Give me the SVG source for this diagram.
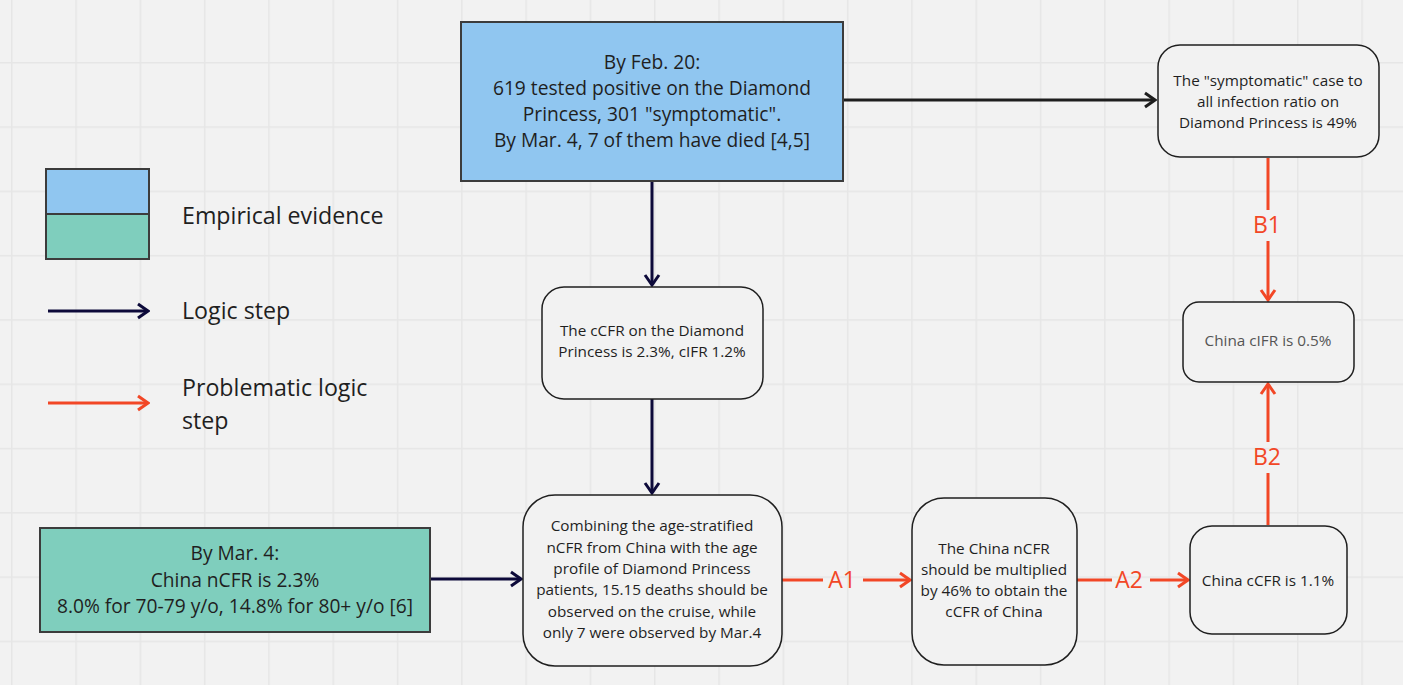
<svg xmlns="http://www.w3.org/2000/svg" width="1403" height="685" viewBox="0 0 1403 685">
<defs>
<pattern id="grid" patternUnits="userSpaceOnUse" x="11" y="-2.3" width="64.3" height="64.3">
<path d="M0.75,0 V64.3 M0,0.75 H64.3" fill="none" stroke="#e6e6e6" stroke-width="1.5"/>
</pattern>
<marker id="ah-navy" viewBox="0 0 14 18" refX="12" refY="9" markerWidth="14" markerHeight="18" markerUnits="userSpaceOnUse" orient="auto">
<path d="M2,2 L12,9 L2,16" fill="none" stroke="#0d0a3a" stroke-width="3"/>
</marker>
<marker id="ah-black" viewBox="0 0 14 18" refX="12" refY="9" markerWidth="14" markerHeight="18" markerUnits="userSpaceOnUse" orient="auto">
<path d="M2,2 L12,9 L2,16" fill="none" stroke="#1e1e1e" stroke-width="3"/>
</marker>
<marker id="ah-red" viewBox="0 0 14 18" refX="12" refY="9" markerWidth="14" markerHeight="18" markerUnits="userSpaceOnUse" orient="auto">
<path d="M2,2 L12,9 L2,16" fill="none" stroke="#f24726" stroke-width="3"/>
</marker>
</defs>
<style>
text{font-family:"Open Sans","Noto Sans","DejaVu Sans",sans-serif;fill:#1f1f1f;text-anchor:middle;dominant-baseline:central}
.ev{stroke:#3c3c3c;stroke-width:2}
.blue{fill:#90c6f0}
.green{fill:#7fcebd}
.node{fill:#f2f2f2;stroke:#1f1f1f;stroke-width:1.5}
.big{font-size:19.2px}
.mid{font-size:15.3px}
.leg{font-size:23.2px;text-anchor:start}
.lab{font-size:23px;fill:#f24726}
.navy{stroke:#0d0a3a;stroke-width:3;fill:none}
.black{stroke:#1e1e1e;stroke-width:3;fill:none}
.red{stroke:#f24726;stroke-width:3;fill:none}
</style>
<rect width="1403" height="685" fill="#f2f2f2"/>
<rect width="1403" height="685" fill="url(#grid)"/>

<g id="legend">
<rect class="ev blue" x="46" y="169" width="103" height="45"/>
<rect class="ev green" x="46" y="214" width="103" height="45"/>
<text class="leg" x="182" y="215">Empirical evidence</text>
<line class="navy" x1="48" y1="311" x2="148" y2="311" marker-end="url(#ah-navy)"/>
<text class="leg" x="182" y="310">Logic step</text>
<line class="red" x1="48" y1="403" x2="148" y2="403" marker-end="url(#ah-red)"/>
<text class="leg" x="182" y="387">Problematic logic</text>
<text class="leg" x="182" y="420">step</text>
</g>

<g id="connectors">
<line class="black" x1="843" y1="100" x2="1155" y2="100" marker-end="url(#ah-black)"/>
<line class="navy" x1="652" y1="181" x2="652" y2="285" marker-end="url(#ah-navy)"/>
<line class="navy" x1="652" y1="399" x2="652" y2="493" marker-end="url(#ah-navy)"/>
<line class="navy" x1="430" y1="579" x2="521" y2="579" marker-end="url(#ah-navy)"/>
<line class="red" x1="782" y1="580" x2="823" y2="580"/>
<line class="red" x1="863" y1="580" x2="910" y2="580" marker-end="url(#ah-red)"/>
<text class="lab" x="842" y="579">A1</text>
<line class="red" x1="1077" y1="580" x2="1112" y2="580"/>
<line class="red" x1="1150" y1="580" x2="1188" y2="580" marker-end="url(#ah-red)"/>
<text class="lab" x="1129" y="579">A2</text>
<line class="red" x1="1268" y1="158" x2="1268" y2="210"/>
<line class="red" x1="1268" y1="241" x2="1268" y2="300" marker-end="url(#ah-red)"/>
<text class="lab" x="1267" y="224">B1</text>
<line class="red" x1="1268" y1="525" x2="1268" y2="473"/>
<line class="red" x1="1268" y1="442" x2="1268" y2="384" marker-end="url(#ah-red)"/>
<text class="lab" x="1267" y="456">B2</text>
</g>

<g id="n-diamond">
<rect class="ev blue" x="461" y="22" width="382" height="159"/>
<text class="big" x="652" y="61">By Feb. 20:</text>
<text class="big" x="652" y="87">619 tested positive on the Diamond</text>
<text class="big" x="652" y="113">Princess, 301 "symptomatic".</text>
<text class="big" x="652" y="139">By Mar. 4, 7 of them have died [4,5]</text>
</g>

<g id="n-china">
<rect class="ev green" x="40" y="528" width="390" height="104"/>
<text class="big" x="235" y="552">By Mar. 4:</text>
<text class="big" x="235" y="579">China nCFR is 2.3%</text>
<text class="big" x="235" y="605">8.0% for 70-79 y/o, 14.8% for 80+ y/o [6]</text>
</g>

<g id="n-ratio">
<rect class="node" x="1158" y="45" width="221" height="112" rx="22"/>
<text class="mid" x="1268" y="80">The "symptomatic" case to</text>
<text class="mid" x="1268" y="101">all infection ratio on</text>
<text class="mid" x="1268" y="122">Diamond Princess is 49%</text>
</g>

<g id="n-dp-cfr">
<rect class="node" x="542" y="287" width="221" height="112" rx="22"/>
<text class="mid" x="652" y="330">The cCFR on the Diamond</text>
<text class="mid" x="652" y="351">Princess is 2.3%, cIFR 1.2%</text>
</g>

<g id="n-combine">
<rect class="node" x="523" y="495" width="259" height="171" rx="32"/>
<text class="mid" x="652" y="525">Combining the age-stratified</text>
<text class="mid" x="652" y="547">nCFR from China with the age</text>
<text class="mid" x="652" y="568">profile of Diamond Princess</text>
<text class="mid" x="652" y="589">patients, 15.15 deaths should be</text>
<text class="mid" x="652" y="611">observed on the cruise, while</text>
<text class="mid" x="652" y="632">only 7 were observed by Mar.4</text>
</g>

<g id="n-multiply">
<rect class="node" x="912" y="498" width="165" height="167" rx="32"/>
<text class="mid" x="994" y="548">The China nCFR</text>
<text class="mid" x="994" y="569">should be multiplied</text>
<text class="mid" x="994" y="590">by 46% to obtain the</text>
<text class="mid" x="994" y="611">cCFR of China</text>
</g>

<g id="n-ccfr">
<rect class="node" x="1190" y="526" width="157" height="108" rx="22"/>
<text class="mid" x="1268" y="580">China cCFR is 1.1%</text>
</g>

<g id="n-cifr">
<rect class="node" x="1183" y="302" width="171" height="80" rx="16"/>
<text class="mid" x="1268" y="340" style="fill:#555">China cIFR is 0.5%</text>
</g>
</svg>
